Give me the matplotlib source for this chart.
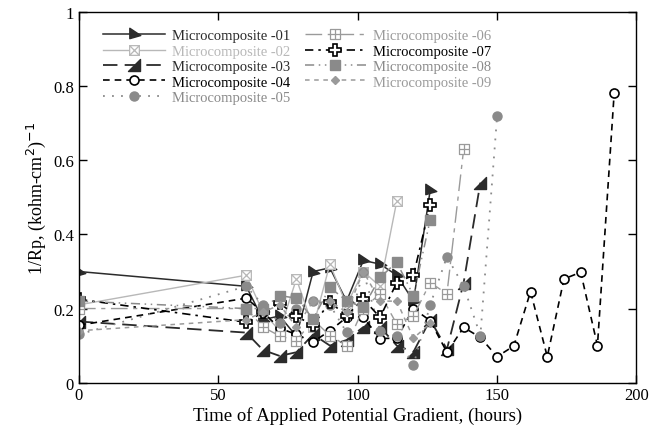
import matplotlib
matplotlib.use("Agg")
import matplotlib.pyplot as plt
from matplotlib.path import Path
import numpy as np

plt.rcParams['font.family'] = ['Liberation Serif', 'DejaVu Serif']

# ---- data (hours, 1/Rp) ----
t01 = [0, 60, 66, 72, 78, 84, 90, 96, 102, 108, 114, 120, 126]
y01 = [0.30, 0.26, 0.17, 0.18, 0.125, 0.30, 0.31, 0.22, 0.33, 0.32, 0.29, 0.22, 0.52]

t02 = [0, 60, 66, 72, 78, 84, 90, 96, 102, 108, 114]
y02 = [0.21, 0.29, 0.19, 0.14, 0.28, 0.15, 0.32, 0.21, 0.30, 0.26, 0.49]

t03 = [0, 60, 66, 72, 78, 84, 90, 96, 102, 108, 114, 120, 126, 132, 138, 144]
y03 = [0.165, 0.135, 0.088, 0.072, 0.082, 0.13, 0.10, 0.115, 0.15, 0.15, 0.10, 0.083, 0.17, 0.09, 0.27, 0.54]

t04 = [0, 60, 66, 72, 78, 84, 90, 96, 102, 108, 114, 120, 126, 132, 138, 144,
       150, 156, 162, 168, 174, 180, 186, 192]
y04 = [0.155, 0.228, 0.19, 0.147, 0.13, 0.11, 0.14, 0.176, 0.176, 0.119, 0.12, 0.20, 0.167, 0.082,
       0.149, 0.122, 0.07, 0.099, 0.246, 0.07, 0.28, 0.298, 0.10, 0.782]

t05 = [0, 60, 66, 72, 78, 84, 90, 96, 102, 108, 114, 120, 126, 132, 138, 144, 150]
y05 = [0.13, 0.26, 0.21, 0.16, 0.20, 0.22, 0.21, 0.136, 0.30, 0.14, 0.125, 0.047, 0.21, 0.34, 0.26, 0.127, 0.72]

t06 = [0, 60, 66, 72, 78, 84, 90, 96, 102, 108, 114, 120, 126, 132, 138]
y06 = [0.20, 0.20, 0.15, 0.126, 0.113, 0.17, 0.127, 0.10, 0.20, 0.24, 0.158, 0.18, 0.27, 0.24, 0.63]

t07 = [0, 60, 66, 72, 78, 84, 90, 96, 102, 108, 114, 120, 126]
y07 = [0.225, 0.163, 0.19, 0.215, 0.179, 0.155, 0.218, 0.18, 0.226, 0.176, 0.27, 0.29, 0.48]

t08 = [0, 60, 66, 72, 78, 84, 90, 96, 102, 108, 114, 120, 126]
y08 = [0.22, 0.20, 0.20, 0.235, 0.228, 0.172, 0.257, 0.221, 0.203, 0.284, 0.325, 0.235, 0.44]

t09 = [0, 60, 66, 72, 78, 84, 90, 96, 102, 108, 114, 120, 126]
y09 = [0.14, 0.17, 0.19, 0.21, 0.15, 0.22, 0.22, 0.19, 0.30, 0.22, 0.22, 0.12, 0.16]

labels = ['Microcomposite -01', 'Microcomposite -02', 'Microcomposite -03',
          'Microcomposite -04', 'Microcomposite -05', 'Microcomposite -06',
          'Microcomposite -07', 'Microcomposite -08', 'Microcomposite -09']

# ---- custom markers ----
flag = Path([(-0.45, 0.6), (-0.45, -0.4), (0.6, -0.1), (-0.45, 0.6)],
            [Path.MOVETO, Path.LINETO, Path.LINETO, Path.CLOSEPOLY])
rtri = Path([(0.5, 0.5), (0.5, -0.5), (-0.5, -0.5), (0.5, 0.5)],
            [Path.MOVETO, Path.LINETO, Path.LINETO, Path.CLOSEPOLY])
xbox = Path([(-1, -1), (1, -1), (1, 1), (-1, 1), (-1, -1),
             (-1, -1), (1, 1), (-1, 1), (1, -1)],
            [Path.MOVETO, Path.LINETO, Path.LINETO, Path.LINETO, Path.CLOSEPOLY,
             Path.MOVETO, Path.LINETO, Path.MOVETO, Path.LINETO])
gbox = Path([(-1, -1), (1, -1), (1, 1), (-1, 1), (-1, -1),
             (0, -1), (0, 1), (-1, 0), (1, 0)],
            [Path.MOVETO, Path.LINETO, Path.LINETO, Path.LINETO, Path.CLOSEPOLY,
             Path.MOVETO, Path.LINETO, Path.MOVETO, Path.LINETO])

dark = '#2b2b2b'
light = '#b8b8b8'
mid = '#8a8a8a'
mid2 = '#9a9a9a'

styles = [
    dict(color=dark, ls='-', lw=1.1, marker=flag, ms=9, mfc=dark, mec=dark),
    dict(color=light, ls='-', lw=1.0, marker=xbox, ms=7, mfc='white', mec=light, mew=0.9),
    dict(color=dark, ls=(0, (8, 4)), lw=1.3, marker=rtri, ms=9, mfc=dark, mec=dark),
    dict(color='black', ls=(0, (4, 3)), lw=1.2, marker='o', ms=6.5, mfc='white', mec='black', mew=1.2),
    dict(color=mid, ls=(0, (1, 4)), lw=1.3, marker='o', ms=6.5, mfc=mid, mec=mid),
    dict(color=mid2, ls=(0, (12, 4, 3, 4)), lw=1.0, marker=gbox, ms=7, mfc='white', mec=mid2, mew=0.9),
    dict(color='black', ls=(0, (5, 3, 1.5, 3)), lw=1.2, marker='P', ms=8, mfc='white', mec='black', mew=1.2),
    dict(color=mid, ls=(0, (6, 3, 1, 3, 1, 3)), lw=1.1, marker='s', ms=7, mfc=mid, mec=mid),
    dict(color=mid2, ls=(0, (3, 3)), lw=1.1, marker='D', ms=4.5, mfc=mid2, mec=mid2),
]

series = [(t01, y01), (t02, y02), (t03, y03), (t04, y04), (t05, y05),
          (t06, y06), (t07, y07), (t08, y08), (t09, y09)]

fig = plt.figure(figsize=(6.49, 4.31), dpi=100)
ax = fig.add_axes([0.1217, 0.110, 0.859, 0.859])

handles = []
for (tx, ty), st, lab in zip(series, styles, labels):
    h, = ax.plot(tx, ty, label=lab, **st)
    handles.append(h)

ax.set_xlim(0, 200)
ax.set_ylim(0, 1)
ax.set_xticks([0, 50, 100, 150, 200])
ax.set_yticks([0, 0.2, 0.4, 0.6, 0.8, 1])
ax.set_yticklabels(['0', '0.2', '0.4', '0.6', '0.8', '1'])
ax.tick_params(direction='in', top=True, right=True, labelsize=12, length=6, width=1)
for s in ax.spines.values():
    s.set_linewidth(1.0)

ax.set_xlabel('Time of Applied Potential Gradient, (hours)', fontsize=13.5, labelpad=2)
ax.set_ylabel('1/Rp, (kohm-cm$^{2}$)$^{-1}$', fontsize=13, labelpad=4)

leg = ax.legend(handles=handles, ncol=2, loc='upper left',
                bbox_to_anchor=(0.02, 0.99), frameon=False, fontsize=10.5,
                handlelength=4.2, columnspacing=1.0, labelspacing=0.15, handletextpad=0.5)
text_colors = [dark, light, dark, 'black', mid, mid2, 'black', mid, mid2]
for txt, c in zip(leg.get_texts(), text_colors):
    txt.set_color(c)

fig.savefig('out.png', dpi=100)
